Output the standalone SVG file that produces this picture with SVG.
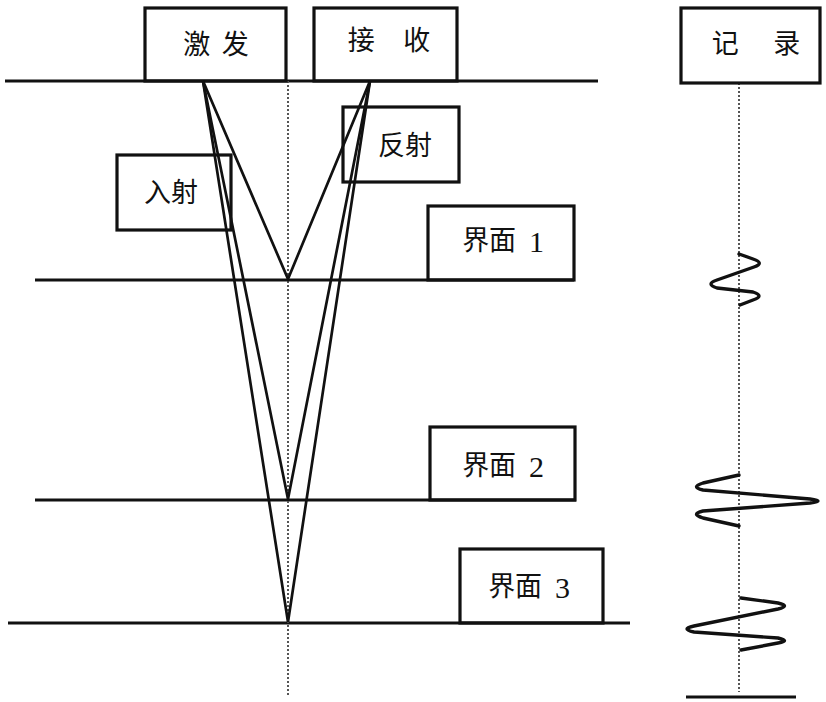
<svg xmlns="http://www.w3.org/2000/svg" width="826" height="702" viewBox="0 0 826 702">
<style>
.bg{fill:#fff}
.box{fill:none;stroke:#111;stroke-width:3.2}
.layer{stroke:#111;stroke-width:3.2;fill:none}
.ray{stroke:#111;stroke-width:2.7;fill:none;stroke-linejoin:miter}
.axis{stroke:#555;stroke-width:2;stroke-dasharray:2 2;fill:none}
.wave{stroke:#111;stroke-width:3.4;fill:none;stroke-linejoin:round;stroke-linecap:round}
.lbl{font-family:"Liberation Serif","Noto Sans CJK SC",serif;font-size:27px;fill:#111;text-anchor:middle;dominant-baseline:central}
.num{font-size:30px}
</style>
<rect class="bg" x="0" y="0" width="826" height="702"/>
<g id="layers">
<line class="layer" x1="5" y1="81" x2="598" y2="81"/>
<line class="layer" x1="35" y1="280" x2="574" y2="280"/>
<line class="layer" x1="35" y1="500" x2="576" y2="500"/>
<line class="layer" x1="8" y1="623" x2="630" y2="623"/>
</g>
<g id="axes">
<line class="axis" x1="288" y1="81" x2="288" y2="695"/>
<line class="axis" x1="739" y1="83" x2="739" y2="692"/>
</g>
<g id="node-source"><rect class="box" x="145" y="8" width="141" height="73"/><text class="lbl" x="216" y="45" word-spacing="5">激 发</text></g>
<g id="node-receiver"><rect class="box" x="314" y="8" width="143" height="73"/><text class="lbl" x="389" y="41" word-spacing="22">接 收</text></g>
<g id="node-record"><rect class="box" x="681" y="8" width="139" height="75"/><text class="lbl" x="756" y="44" word-spacing="28">记 录</text></g>
<g id="node-reflect"><rect class="box" x="343" y="107" width="116" height="75"/><text class="lbl" x="405" y="146">反射</text></g>
<g id="node-incident"><rect class="box" x="117" y="155" width="114" height="75"/><text class="lbl" x="171" y="193">入射</text></g>
<g id="node-if1"><rect class="box" x="428" y="206" width="146" height="74"/><text class="lbl" x="503" y="241" word-spacing="6">界面 <tspan class="num">1</tspan></text></g>
<g id="node-if2"><rect class="box" x="430" y="427" width="145" height="73"/><text class="lbl" x="503" y="466" word-spacing="6">界面 <tspan class="num">2</tspan></text></g>
<g id="node-if3"><rect class="box" x="460" y="549" width="143" height="74"/><text class="lbl" x="529" y="587" word-spacing="6">界面 <tspan class="num">3</tspan></text></g>
<g id="connectors">
<polyline class="ray" points="203,81 288,279 370,81"/>
<polyline class="ray" points="203,81 288,499 370,81"/>
<polyline class="ray" points="203,81 288,622 370,81"/>
</g>
<g id="record-traces">
<path class="wave" d="M739,254 L753,259 Q765,263 754,267 L717,280 Q705,284 717,288 L753,292 Q765,296 753,300 L740,305"/>
<path class="wave" d="M739,475 L703,483 Q690,487 703,490 L810,499 Q826,501 810,503 L703,511 Q690,514 703,518 L739,526"/>
<path class="wave" d="M741,598 L778,603 Q791,606 778,609 L694,626 Q680,629 694,632 L778,638 Q791,641 778,643 L741,650"/>
<line class="layer" x1="686" y1="697" x2="796" y2="697"/>
</g>
</svg>
